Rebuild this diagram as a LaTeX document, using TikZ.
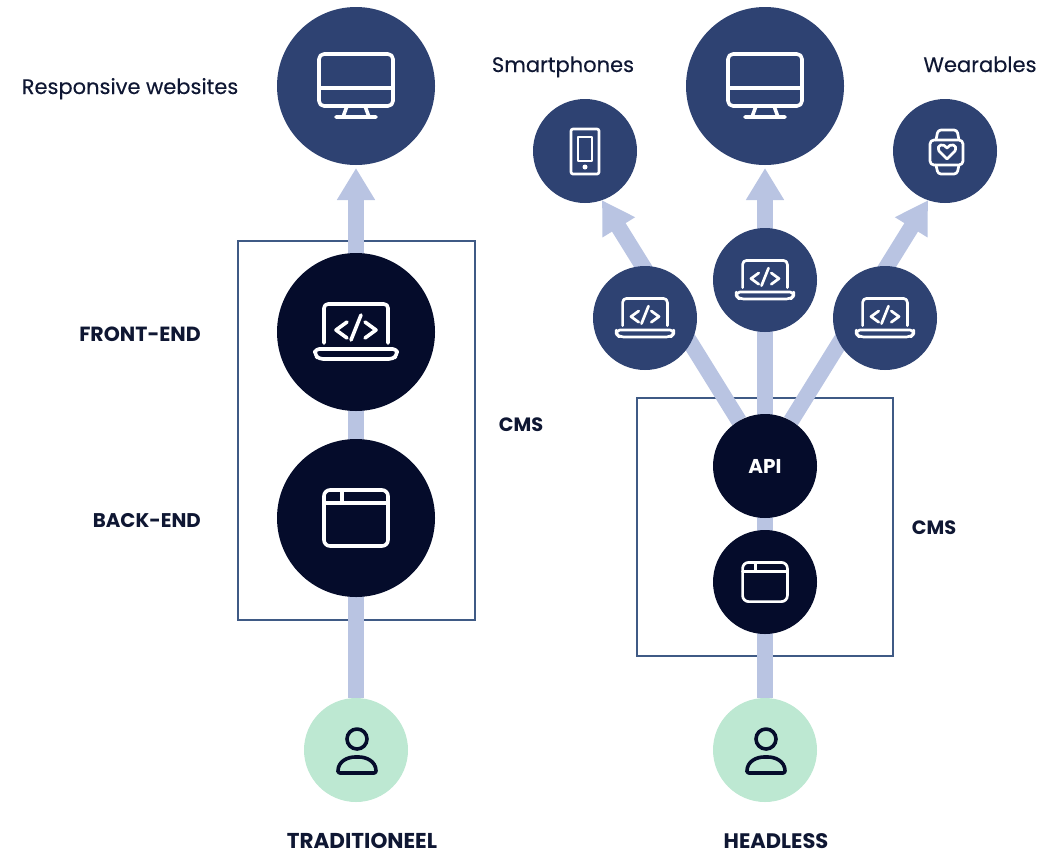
\documentclass[tikz,border=0pt]{standalone}
\usepackage{fontspec}
\setmainfont{Poppins}
\newfontfamily\medfont{Poppins}[FakeBold=0.25]
\usetikzlibrary{arrows.meta,backgrounds}
\definecolor{navy}{HTML}{2E4272}
\definecolor{ink}{HTML}{050C2B}
\definecolor{mint}{HTML}{BDE8D2}
\definecolor{flow}{HTML}{B9C4E2}
\definecolor{frame}{HTML}{3F5A85}
\definecolor{txt}{HTML}{0F1733}
\tikzset{
  every node/.style={font=\medfont\fontsize{21pt}{25pt}\selectfont,text=txt,inner sep=0pt},
  disc/.style={circle,inner sep=0pt,outer sep=0pt},
  big/.style={disc,minimum size=158pt},
  small/.style={disc,minimum size=104pt},
  flowline/.style={draw=flow,line width=16pt},
  flowarrow/.style={flowline,-{Triangle[width=36pt,length=32pt]}},
  cmsbox/.style={draw=frame,line width=1.5pt},
  lab/.style={font=\fontsize{#1}{24pt}\selectfont\bfseries},
  icon/.style={draw=white,line width=3.6pt,line cap=round,line join=round},
  iconsmall/.style={draw=white,line width=2.7pt,line cap=round,line join=round},
  pics/monitor/.style={code={
    \draw[pic actions,rounded corners=5pt] (-37,-32) rectangle (37,20);
    \draw[pic actions] (-37,2) -- (37,2) (-9,20) -- (-13,31) (9,20) -- (13,31) (-20,31) -- (20,31);
  }},
  pics/laptop/.style={code={
    \draw[pic actions,rounded corners=4pt] (-32,11) -- (-32,-28) -- (32,-28) -- (32,11);
    \draw[pic actions,rounded corners=4pt] (-41,17) -- (41,17) -- (41,23) -- (37,27) -- (-37,27) -- (-41,23) -- cycle;
    \draw[pic actions] (-9,-10) -- (-20,-2) -- (-9,6) (9,-10) -- (20,-2) -- (9,6) (5,-17) -- (-5,8);
  }},
  pics/browser/.style={code={
    \draw[pic actions,rounded corners=6pt] (-32,-28) rectangle (32,28);
    \draw[pic actions] (-32,-15) -- (32,-15) (-14,-28) -- (-14,-15);
  }},
  pics/person/.style={code={
    \draw[pic actions] (1,-11) circle (10);
    \draw[pic actions,rounded corners=2pt] (-18,23) -- (20,23) .. controls (20,11) and (10,7) .. (1,7) .. controls (-8,7) and (-18,11) .. cycle;
  }},
  pics/phone/.style={code={
    \draw[pic actions,rounded corners=2pt] (-14,-22) rectangle (14,23);
    \draw[pic actions] (-7,-14) rectangle (7,10);
    \fill[white] (0,16) circle (2.5);
  }},
  pics/watch/.style={code={
    \draw[pic actions,rounded corners=4pt] (-15,-11) rectangle (18,14);
    \draw[pic actions,rounded corners=3pt] (-9,-11) -- (-7,-21) -- (12,-21) -- (14,-11);
    \draw[pic actions,rounded corners=3pt] (-9,14) -- (-7,23) -- (12,23) -- (14,14);
    \draw[pic actions,line join=round] (2,8) -- (-6,0) .. controls (-9,-7) and (-1,-8) .. (2,-3) .. controls (5,-8) and (13,-7) .. (10,0) -- cycle;
  }},
}
\begin{document}
\begin{tikzpicture}[x=1pt,y=-1pt]
\useasboundingbox (0,0) rectangle (1059,852);
% discs
\node[big,fill=navy] (monL) at (356,86) {};
\node[big,fill=ink] (front) at (356,332) {};
\node[big,fill=ink] (back) at (356,518) {};
\node[small,fill=mint] (userL) at (356,750) {};
\node[big,fill=navy] (monR) at (765,86) {};
\node[small,fill=navy] (phone) at (585,151) {};
\node[small,fill=navy] (watch) at (945,151) {};
\node[small,fill=navy] (lapM) at (765,280) {};
\node[small,fill=navy] (lapL) at (645,318) {};
\node[small,fill=navy] (lapR) at (885,318) {};
\node[small,fill=ink,text=white,font=\fontsize{20pt}{24pt}\selectfont\bfseries] (api) at (765,466) {API};
\node[small,fill=ink] (brow) at (765,582) {};
\node[small,fill=mint] (userR) at (765,750) {};
% frames and flows behind the discs
\begin{scope}[on background layer]
  \draw[cmsbox] (238,241) rectangle (475,620);
  \draw[cmsbox] (637,398) rectangle (893,656);
  \draw[flowarrow,shorten >=3pt] (userL) -- (monL);
  \draw[flowarrow,shorten >=3pt] (userR) -- (monR);
  \draw[flowarrow] (api.120) -- (phone.-71);
  \draw[flowarrow] (api.60) -- (watch.-109);
\end{scope}
% icons
\pic[icon] at (356,86) {monitor};
\pic[icon] at (765,86) {monitor};
\pic[icon] at (356,332) {laptop};
\pic[icon] at (356,518) {browser};
\pic[iconsmall,scale=.7] at (765,280) {laptop};
\pic[iconsmall,scale=.7] at (645,318) {laptop};
\pic[iconsmall,scale=.7] at (885,318) {laptop};
\pic[iconsmall,scale=.7] at (765,582) {browser};
\pic[iconsmall] at (585,151) {phone};
\pic[iconsmall] at (945,151) {watch};
\pic[icon,draw=ink] at (356,750) {person};
\pic[icon,draw=ink] at (765,750) {person};
% labels
\node[anchor=base] (tResp) at (130,94) {Responsive websites};
\node[anchor=base] (tSmart) at (563,72) {Smartphones};
\node[anchor=base] (tWear) at (980,72) {Wearables};
\node[lab=20.5pt,anchor=base east] (tFront) at (201,341) {FRONT-END};
\node[lab=19.8pt,anchor=base east] (tBack) at (201,527) {BACK-END};
\node[lab=19.3pt,anchor=base] (tCmsL) at (521,431) {CMS};
\node[lab=19.3pt,anchor=base] (tCmsR) at (934,534) {CMS};
\node[lab=21.5pt,anchor=base] (tTrad) at (362,848) {TRADITIONEEL};
\node[lab=21pt,anchor=base] (tHead) at (776,848) {HEADLESS};
\end{tikzpicture}
\end{document}
